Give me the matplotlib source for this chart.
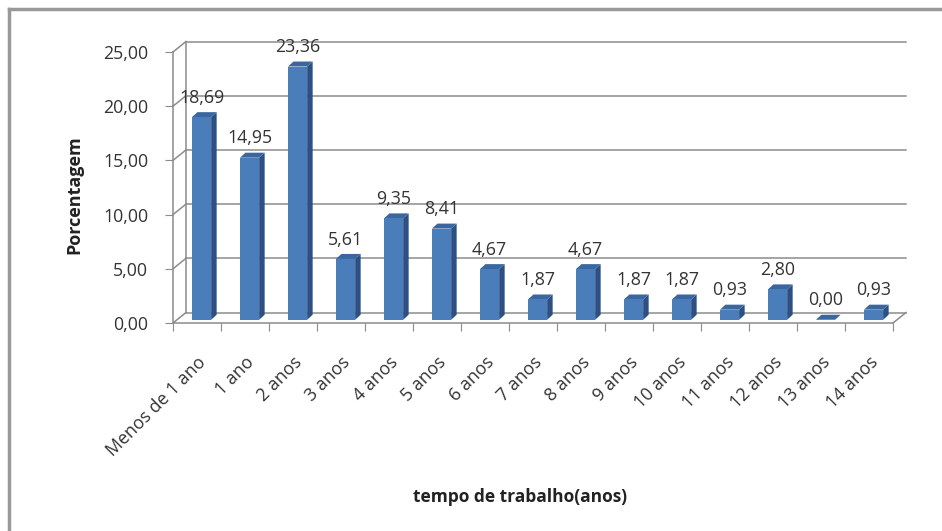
import numpy as np
import matplotlib.pyplot as plt
from matplotlib.patches import Polygon, Rectangle
from matplotlib.lines import Line2D

categorias = ['Menos de 1 ano', '1 ano', '2 anos', '3 anos', '4 anos', '5 anos', '6 anos',
              '7 anos', '8 anos', '9 anos', '10 anos', '11 anos', '12 anos', '13 anos', '14 anos']
porcentagem = [18.69, 14.95, 23.36, 5.61, 9.35, 8.41, 4.67, 1.87, 4.67, 1.87, 1.87, 0.93, 2.80, 0.00, 0.93]
yticks = [0, 5, 10, 15, 20, 25]

W, H = 942, 531
fig = plt.figure(figsize=(W / 100, H / 100), dpi=100)
fig.patch.set_facecolor('white')

# axes laid out in pixels: x=0 at px 173, 48 px per category; y=0 at px 323, 10.84 px per unit
px_x, px_y = 48.0, 10.84
x0_px, y0_px = 173, 323
left_px, right_px, top_px, bot_px = 150, 925, 28, 340
ax = fig.add_axes([left_px / W, 1 - bot_px / H, (right_px - left_px) / W, (bot_px - top_px) / H])
ax.set_xlim((left_px - x0_px) / px_x, (right_px - x0_px) / px_x)
ax.set_ylim(-(bot_px - y0_px) / px_y, (y0_px - top_px) / px_y)
ax.patch.set_alpha(0)

n = len(categorias)
dx, dy = 13 / px_x, 10.5 / px_y      # depth of the 3D box
grid_c = '#8c8c8c'
txt_c = '#333333'
fonte = 'Open Sans'

# back wall gridlines and left wall diagonals
for v in yticks:
    ax.add_line(Line2D([dx, n + dx], [v + dy, v + dy], color=grid_c, lw=1.1))
    ax.add_line(Line2D([0, dx], [v, v + dy], color=grid_c, lw=1.1))
ax.add_line(Line2D([dx, dx], [dy, yticks[-1] + dy], color=grid_c, lw=1.1))
# floor
ax.add_line(Line2D([n, n + dx], [0, dy], color=grid_c, lw=1.1))

# bars
bw = 0.4
sx, sy = 5.5 / px_x, 5 / px_y
front_c, side_c, top_c = '#4A7EBB', '#2C5080', '#3B67A0'
base = 0.3
for i, v in enumerate(porcentagem):
    xl = i + 0.5 - bw / 2 + dx * 0.35
    yb = base
    yt = base + v
    ax.add_patch(Polygon([[xl + bw, yb], [xl + bw + sx, yb + sy], [xl + bw + sx, yt + sy], [xl + bw, yt]],
                         closed=True, facecolor=side_c, edgecolor='none', zorder=3))
    ax.add_patch(Polygon([[xl, yt], [xl + sx, yt + sy], [xl + bw + sx, yt + sy], [xl + bw, yt]],
                         closed=True, facecolor=top_c, edgecolor='none', zorder=3))
    if v > 0:
        ax.add_patch(Rectangle((xl, yb), bw, v, facecolor=front_c, edgecolor='none', zorder=3))
    lab = ('%.2f' % v).replace('.', ',')
    ax.text(i + 0.5 + dx * 0.35, yt + sy + 0.5, lab, ha='center', va='bottom',
            fontsize=12.8, color=txt_c, family=fonte, zorder=4)

# axes / spines
for s in ['top', 'right']:
    ax.spines[s].set_visible(False)
ax.spines['left'].set_position(('data', 0))
ax.spines['bottom'].set_position(('data', 0))
ax.spines['left'].set_bounds(0, yticks[-1])
ax.spines['bottom'].set_bounds(0, n)
ax.spines['left'].set_color(grid_c)
ax.spines['bottom'].set_color(grid_c)
ax.spines['left'].set_linewidth(1.1)
ax.spines['bottom'].set_linewidth(1.1)

ax.set_yticks(yticks)
ax.set_yticklabels([('%.2f' % v).replace('.', ',') for v in yticks],
                   fontsize=12.8, color=txt_c, family=fonte)
ax.tick_params(axis='y', direction='out', length=6, color=grid_c, pad=12)

ax.set_xticks(np.arange(n + 1))
ax.set_xticklabels([])
ax.tick_params(axis='x', which='major', direction='out', length=6, color=grid_c)
ax.set_xticks(np.arange(n) + 0.5, minor=True)
ax.set_xticklabels(categorias, minor=True, rotation=45, ha='right', va='top',
                   rotation_mode='anchor', fontsize=12.8, color=txt_c, family=fonte)
ax.tick_params(axis='x', which='minor', length=0, pad=22)

fig.text(74 / W, 1 - 195 / H, 'Porcentagem', rotation=90, ha='center', va='center',
         fontsize=13, fontweight='bold', color='#222222', family=fonte)
fig.text(520 / W, 1 - 497 / H, 'tempo de trabalho(anos)', ha='center', va='center',
         fontsize=12.5, fontweight='bold', color='#222222', family=fonte)

# outer frame (left and top edges only visible)
fig.add_artist(Line2D([9 / W, 9 / W], [0, 1 - 9 / H], transform=fig.transFigure, color='#999999', lw=2.5))
fig.add_artist(Line2D([9 / W, 1], [1 - 9 / H, 1 - 9 / H], transform=fig.transFigure, color='#999999', lw=2.5))

fig.savefig('out.png', dpi=100)
